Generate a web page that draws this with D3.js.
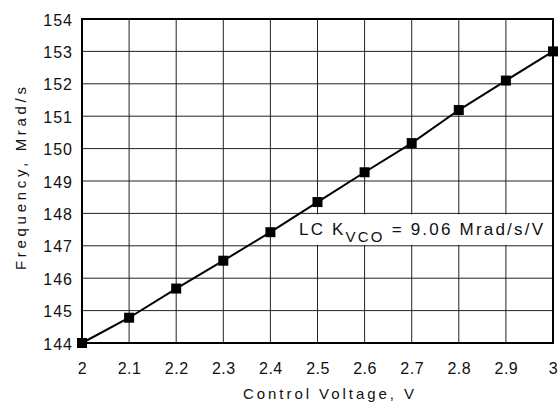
<!DOCTYPE html>
<html><head><meta charset="utf-8">
<script src="https://cdn.jsdelivr.net/npm/d3@7"></script>
<style>
body{margin:0;background:#fff;}
text{font-family:"Liberation Sans",Arial,sans-serif;fill:#111;}
</style></head>
<body><svg id="c" width="558" height="405"></svg>
<script>
const voltage = [2.0, 2.1, 2.2, 2.3, 2.4, 2.5, 2.6, 2.7, 2.8, 2.9, 3.0];
const frequency = [144.0, 144.78, 145.68, 146.54, 147.42, 148.35, 149.27, 150.17, 151.19, 152.1, 153.0];
const xTicks = [2, 2.1, 2.2, 2.3, 2.4, 2.5, 2.6, 2.7, 2.8, 2.9, 3];
const yTicks = [144, 145, 146, 147, 148, 149, 150, 151, 152, 153, 154];
const xTitle = "Control Voltage, V";
const yTitle = "Frequency, Mrad/s";

const m = {l:82, r:553, t:19, b:343};
const svg = d3.select("#c");
const x = d3.scaleLinear().domain([2,3]).range([m.l,m.r]);
const y = d3.scaleLinear().domain([144,154]).range([m.b,m.t]);

// grid
svg.append("g").selectAll("line").data(xTicks).join("line")
  .attr("x1",d=>x(d)).attr("x2",d=>x(d)).attr("y1",m.t).attr("y2",m.b)
  .attr("stroke","#222").attr("stroke-width",1);
svg.append("g").selectAll("line").data(yTicks).join("line")
  .attr("y1",d=>y(d)).attr("y2",d=>y(d)).attr("x1",m.l).attr("x2",m.r)
  .attr("stroke","#222").attr("stroke-width",1);

// annotation background
svg.append("rect").attr("x",296).attr("y",y(147.97)).attr("width",x(2.98)-296).attr("height",y(147.03)-y(147.97)).attr("fill","#fff");

// border
svg.append("rect").attr("x",m.l).attr("y",m.t).attr("width",m.r-m.l).attr("height",m.b-m.t)
  .attr("fill","none").attr("stroke","#000").attr("stroke-width",2);

// axes labels
const xa = d3.axisBottom(x).tickValues(xTicks).tickFormat(d3.format("~g")).tickSize(0).tickPadding(0);
const gx = svg.append("g").attr("transform",`translate(0,${m.b})`).call(xa);
gx.select(".domain").remove();
gx.selectAll("text").attr("font-size",16).attr("dy",null).attr("y",31).style("letter-spacing","0.5px").attr("fill","#111");
const ya = d3.axisLeft(y).tickValues(yTicks).tickFormat(d3.format("d")).tickSize(0).tickPadding(0);
const gy = svg.append("g").attr("transform",`translate(${m.l-9},0)`).call(ya);
gy.select(".domain").remove();
gy.selectAll("text").attr("font-size",16).attr("dy","0.38em").style("letter-spacing","1px").attr("fill","#111");
svg.selectAll(".tick text").attr("font-family","'Liberation Sans',Arial,sans-serif");

// line and markers
const line = d3.line().x((d,i)=>x(voltage[i])).y(d=>y(d));
svg.append("path").datum(frequency).attr("d",line).attr("fill","none").attr("stroke","#000").attr("stroke-width",2);
svg.append("g").selectAll("rect").data(frequency).join("rect")
  .attr("x",(d,i)=>x(voltage[i])-5).attr("y",d=>y(d)-5).attr("width",10).attr("height",10).attr("fill","#000");

// annotation
const t = svg.append("text").attr("x",299).attr("y",235).attr("font-size",17)
  .attr("textLength",244).attr("lengthAdjust","spacing");
t.append("tspan").text("LC K");
t.append("tspan").attr("font-size",15).attr("dy",7).text("VCO");
t.append("tspan").attr("dy",-7).text(" = 9.06 Mrad/s/V");

// titles
svg.append("text").attr("x",243).attr("y",399).attr("font-size",15)
  .attr("textLength",171).attr("lengthAdjust","spacing").text(xTitle);
svg.append("text").attr("transform",`translate(26,270) rotate(-90)`).attr("font-size",15)
  .attr("textLength",183).attr("lengthAdjust","spacing").text(yTitle);
</script></body></html>
